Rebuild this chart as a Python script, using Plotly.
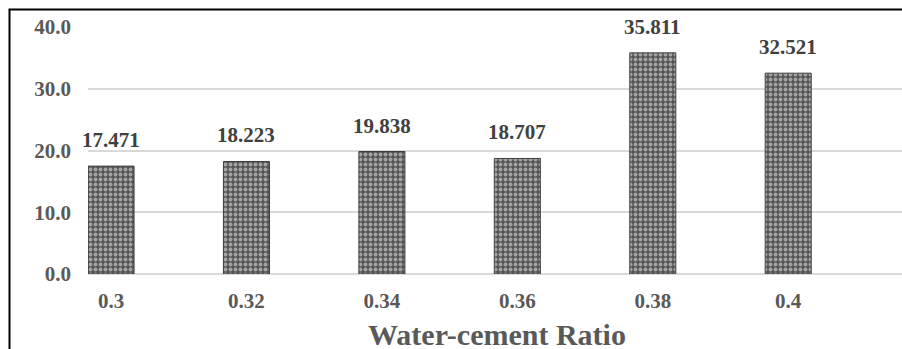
import plotly.graph_objects as go

categories = ["0.3", "0.32", "0.34", "0.36", "0.38", "0.4"]
strength = [17.471, 18.223, 19.838, 18.707, 35.811, 32.521]
y_ticks = [0, 10, 20, 30, 40]
y_tick_labels = ["0.0", "10.0", "20.0", "30.0", "40.0"]
x_title = "Water-cement Ratio"

FONT = "Liberation Serif"
W, H = 902, 349
ML, MR, MT, MB = 88, 0, 27, 75
pw = W - ML - MR
ph = H - MT - MB

fig = go.Figure()
fig.add_trace(go.Bar(
    x=categories, y=strength, width=0.34,
    marker=dict(
        color="#555555",
        line=dict(color="#3f3f3f", width=1),
        pattern=dict(shape=".", fgcolor="#f2f2f2", bgcolor="#555555",
                     size=5, solidity=0.45, fillmode="overlay"),
    ),
    hoverinfo="skip",
))

for i, v in enumerate(strength):
    fig.add_annotation(x=i, y=v, text=f"<b>{v:.3f}</b>", showarrow=False,
                       yanchor="middle", yshift=26,
                       font=dict(family=FONT, size=21, color="#404040"))

fig.add_annotation(xref="paper", yref="paper", x=0.502, y=(274 - 334) / ph,
                   text=f"<b>{x_title}</b>", showarrow=False, yanchor="middle",
                   font=dict(family=FONT, size=30, color="#595959"))

# figure frame (left and top edges visible)
lx = (9.5 - ML) / pw
ty = (274 - 9.5) / ph
fig.add_shape(type="path", xref="paper", yref="paper",
              path=f"M {lx} {-MB/ph - 0.05} L {lx} {ty} L 1.05 {ty}",
              line=dict(color="#000000", width=2))

fig.update_layout(
    width=W, height=H,
    margin=dict(l=ML, r=MR, t=MT, b=MB),
    paper_bgcolor="white", plot_bgcolor="white",
    showlegend=False,
    xaxis=dict(
        type="category", range=[-0.17, 5.84],
        showgrid=False, zeroline=False, showline=False, ticks="",
        tickfont=dict(family=FONT, size=21, color="#595959"),
        tickprefix="<b>", ticksuffix="</b>",
        ticklabelstandoff=12,
    ),
    yaxis=dict(
        range=[0, 40], tickvals=y_ticks, ticktext=[f"<b>{t}</b>" for t in y_tick_labels],
        showgrid=True, gridcolor="#d9d9d9", gridwidth=1.5,
        zeroline=True, zerolinecolor="#d9d9d9", zerolinewidth=1.5,
        showline=False, ticks="",
        tickfont=dict(family=FONT, size=21, color="#595959"),
        ticklabelstandoff=16,
    ),
)

fig.write_html("out.html", config={"displayModeBar": False},
               post_script="document.body.style.margin='0';document.body.style.overflow='hidden';")
